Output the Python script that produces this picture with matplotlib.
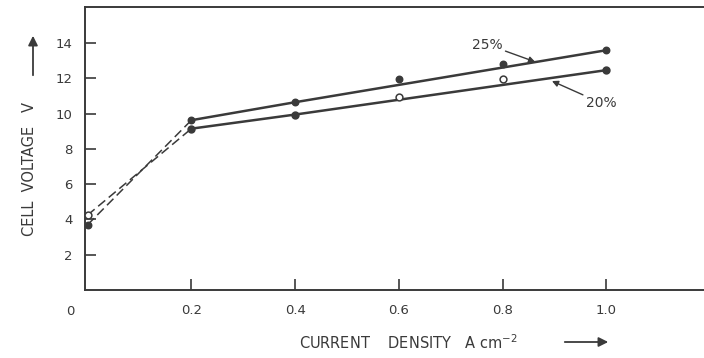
import matplotlib
matplotlib.use("Agg")
import matplotlib.pyplot as plt

# Data
x_pts = [0.0, 0.2, 0.4, 0.6, 0.8, 1.0]
v25 = [3.7, 9.63, 10.67, 11.96, 12.8, 13.6]
v20 = [4.25, 9.15, 9.95, 10.96, 11.94, 12.47]
filled20 = [False, True, True, False, False, True]

# Fitted solid lines (0.2 .. 1.0) and dashed extrapolations (0 .. 0.2)
fit_x = [0.2, 0.4, 1.0]
fit25 = [9.63, 10.65, 13.6]
fit20 = [9.15, 9.95, 12.47]
dash_x = [0.0, 0.2]
dash25 = [3.7, 9.63]
dash20 = [4.25, 9.15]

xticks = [0.2, 0.4, 0.6, 0.8, 1.0]
xticklabels = ["0.2", "0.4", "0.6", "0.8", "1.0"]
yticks = [2, 4, 6, 8, 10, 12, 14]

col = "#3a3a3a"
plt.rcParams['font.family'] = ['DejaVu Sans']

fig = plt.figure(figsize=(7.04, 3.58), dpi=100)
ax = fig.add_axes([85/704, 68/358, 1 - 85/704, (290-7)/358])
ax.set_xlim(-0.005, 1.188)
ax.set_ylim(0, 16.05)

ax.plot(fit_x, fit25, color=col, lw=1.8)
ax.plot(fit_x, fit20, color=col, lw=1.8)
ax.plot(dash_x, dash25, color=col, lw=1.1, ls=(0, (6, 3)))
ax.plot(dash_x, dash20, color=col, lw=1.1, ls=(0, (6, 3)))

ax.scatter(x_pts, v25, s=22, color=col, zorder=3)
for xv, yv, f in zip(x_pts, v20, filled20):
    ax.scatter([xv], [yv], s=24, facecolor=col if f else "white",
               edgecolor=col, linewidth=1.1, zorder=3)

for s in ["right"]:
    ax.spines[s].set_visible(False)
for s in ["left", "bottom", "top"]:
    ax.spines[s].set_color(col)
    ax.spines[s].set_linewidth(1.4)

ax.set_xticks(xticks)
ax.set_xticklabels(xticklabels)
ax.set_yticks(yticks)
ax.tick_params(axis="both", direction="in", length=8, width=1.2, color=col,
               labelcolor=col, labelsize=9.5)
ax.tick_params(axis="x", pad=10)
ax.tick_params(axis="y", pad=9)
ax.text(-0.034, -1.2, "0", ha="center", va="center", color=col, fontsize=9.5,
        clip_on=False)

# annotations
ax.annotate("25%", xy=(0.8626, 12.94), xytext=(0.80, 13.92), color=col,
            fontsize=10, ha="right", va="center",
            arrowprops=dict(arrowstyle="-|>", color=col, lw=1.0,
                            mutation_scale=9, shrinkA=0, shrinkB=0))
ax.annotate("20%", xy=(0.895, 11.85), xytext=(0.96, 10.6), color=col,
            fontsize=10, ha="left", va="center",
            arrowprops=dict(arrowstyle="-|>", color=col, lw=1.0,
                            mutation_scale=9, shrinkA=0, shrinkB=0,
                            relpos=(0, 1)))

# axis labels
fig.text(30/704, 1 - 169/358, "CELL  VOLTAGE   V", rotation=90, ha="center",
         va="center", color=col, fontsize=10.5)
fig.text(408/704, 1 - 343/358, "CURRENT    DENSITY   A cm$^{-2}$", ha="center",
         va="center", color=col, fontsize=10.5)
fig.patches.append(matplotlib.patches.FancyArrowPatch(
    (33/704, 1 - 78/358), (33/704, 1 - 33/358), transform=fig.transFigure,
    arrowstyle="-|>", mutation_scale=14, color=col, lw=1.3))
fig.patches.append(matplotlib.patches.FancyArrowPatch(
    (562/704, 1 - 342/358), (611/704, 1 - 342/358), transform=fig.transFigure,
    arrowstyle="-|>", mutation_scale=14, color=col, lw=1.3))

fig.savefig("out.png", dpi=100)
